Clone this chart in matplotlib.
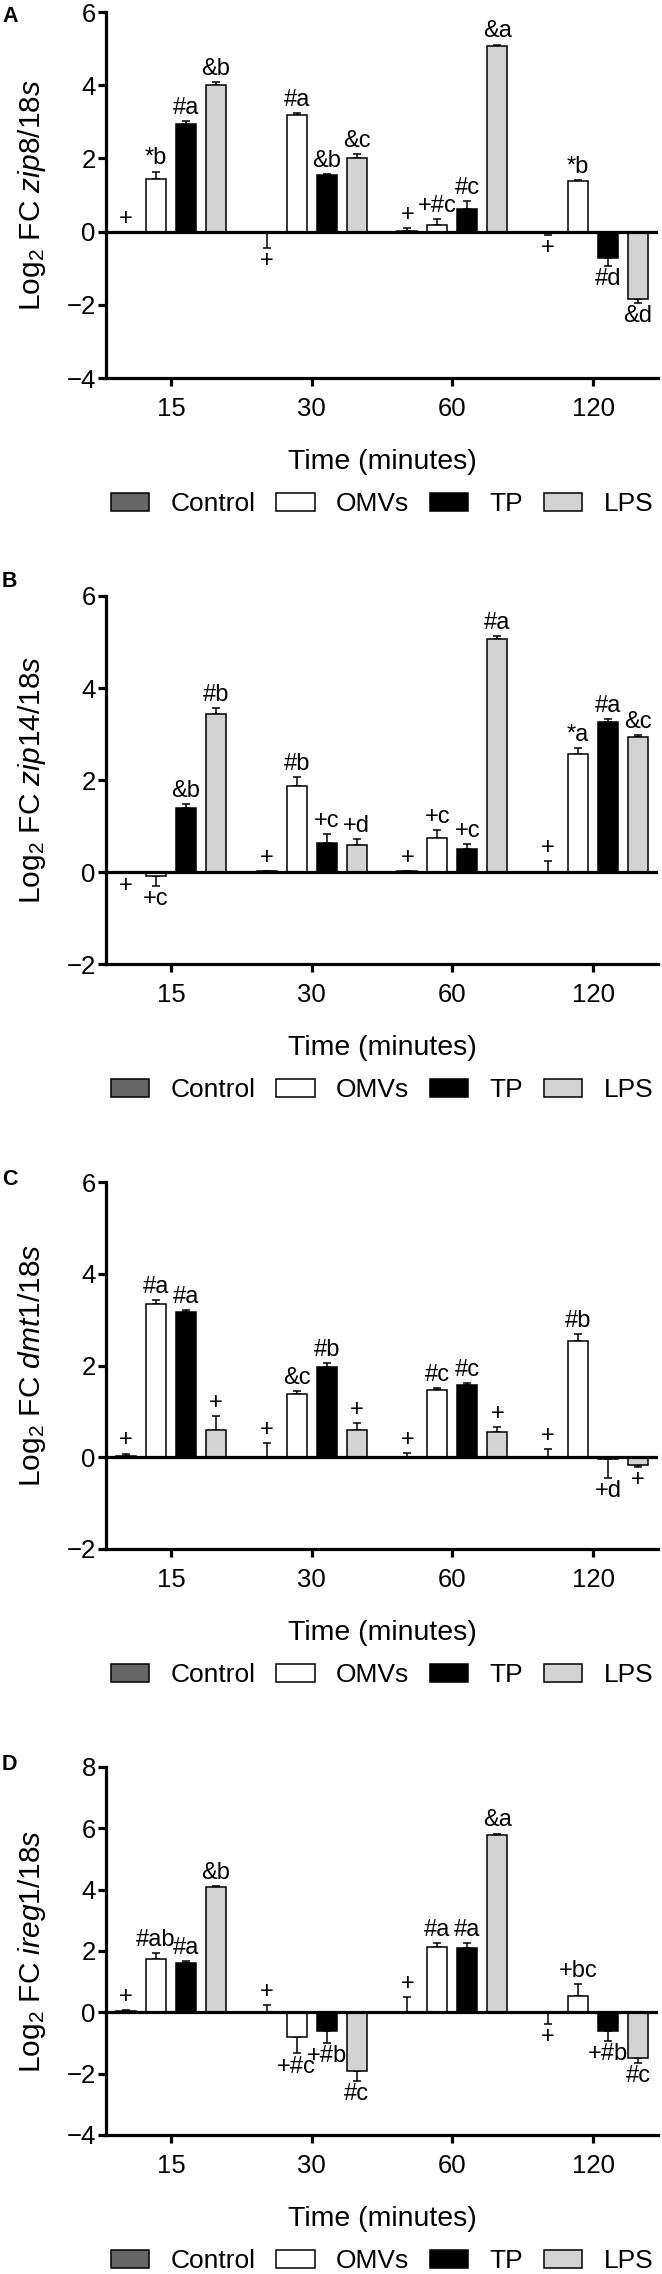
import matplotlib
matplotlib.use("Agg")
import matplotlib.pyplot as plt
from matplotlib.patches import Patch

plt.rcParams['font.family'] = ['Liberation Sans', 'DejaVu Sans']
plt.rcParams['mathtext.fontset'] = 'custom'
plt.rcParams['mathtext.rm'] = 'Liberation Sans'
plt.rcParams['mathtext.it'] = 'Liberation Sans:italic'

times = ['15', '30', '60', '120']
groups = ['Control', 'OMVs', 'TP', 'LPS']
colors = ['#666666', 'white', 'black', '#d3d3d3']

# A - zip8
zip8_mean = {
    'Control': [0.0, -0.02, 0.03, -0.05],
    'OMVs': [1.45, 3.18, 0.17, 1.37],
    'TP': [2.95, 1.55, 0.63, -0.72],
    'LPS': [4.0, 2.0, 5.08, -1.84],
}
zip8_sem = {
    'Control': [0.0, 0.43, 0.07, 0.03],
    'OMVs': [0.19, 0.05, 0.18, 0.05],
    'TP': [0.07, 0.03, 0.2, 0.22],
    'LPS': [0.08, 0.12, 0.03, 0.1],
}
zip8_labels = {
    'Control': ['+', '+', '+', '+'],
    'OMVs': ['*b', '#a', '+#c', '*b'],
    'TP': ['#a', '&b', '#c', '#d'],
    'LPS': ['&b', '&c', '&a', '&d'],
}

# B - zip14
zip14_mean = {
    'Control': [-0.02, 0.02, 0.02, 0.0],
    'OMVs': [-0.08, 1.86, 0.74, 2.57],
    'TP': [1.39, 0.64, 0.5, 3.27],
    'LPS': [3.44, 0.58, 5.07, 2.93],
}
zip14_sem = {
    'Control': [0.0, 0.0, 0.0, 0.24],
    'OMVs': [0.22, 0.2, 0.17, 0.12],
    'TP': [0.09, 0.19, 0.1, 0.06],
    'LPS': [0.12, 0.14, 0.06, 0.05],
}
zip14_labels = {
    'Control': ['+', '+', '+', '+'],
    'OMVs': ['+c', '#b', '+c', '*a'],
    'TP': ['&b', '+c', '+c', '#a'],
    'LPS': ['#b', '+d', '#a', '&c'],
}

# C - dmt1
dmt1_mean = {
    'Control': [0.02, 0.0, 0.0, 0.0],
    'OMVs': [3.35, 1.37, 1.46, 2.53],
    'TP': [3.17, 1.97, 1.57, -0.04],
    'LPS': [0.6, 0.6, 0.55, -0.17],
}
dmt1_sem = {
    'Control': [0.06, 0.3, 0.1, 0.18],
    'OMVs': [0.07, 0.08, 0.04, 0.16],
    'TP': [0.03, 0.08, 0.04, 0.41],
    'LPS': [0.3, 0.14, 0.1, 0.05],
}
dmt1_labels = {
    'Control': ['+', '+', '+', '+'],
    'OMVs': ['#a', '&c', '#c', '#b'],
    'TP': ['#a', '#b', '#c', '+d'],
    'LPS': ['+', '+', '+', '+'],
}

# D - ireg1
ireg1_mean = {
    'Control': [0.05, 0.0, 0.0, -0.02],
    'OMVs': [1.74, -0.82, 2.13, 0.52],
    'TP': [1.6, -0.62, 2.09, -0.62],
    'LPS': [4.1, -1.9, 5.78, -1.5],
}
ireg1_sem = {
    'Control': [0.03, 0.24, 0.49, 0.35],
    'OMVs': [0.18, 0.52, 0.13, 0.4],
    'TP': [0.08, 0.37, 0.16, 0.3],
    'LPS': [0.03, 0.35, 0.05, 0.16],
}
ireg1_labels = {
    'Control': ['+', '+', '+', '+'],
    'OMVs': ['#ab', '+#c', '#a', '+bc'],
    'TP': ['#a', '+#b', '#a', '+#b'],
    'LPS': ['&b', '#c', '&a', '#c'],
}

panels = [
    ('A', 'zip8/18s', zip8_mean, zip8_sem, zip8_labels, [-4, -2, 0, 2, 4, 6]),
    ('B', 'zip14/18s', zip14_mean, zip14_sem, zip14_labels, [-2, 0, 2, 4, 6]),
    ('C', 'dmt1/18s', dmt1_mean, dmt1_sem, dmt1_labels, [-2, 0, 2, 4, 6]),
    ('D', 'ireg1/18s', ireg1_mean, ireg1_sem, ireg1_labels, [-4, -2, 0, 2, 4, 6, 8]),
]

W, H = 662, 2274
fig = plt.figure(figsize=(W / 100, H / 100), dpi=100)

tops = [12, 596, 1182, 1767]
bottoms = [378, 964, 1549, 2135]
left_px, right_px = 106, 658
step = 0.213
width = 0.142


def draw_panel(ax, gene, means, sems, labels, yticks, hpx):
    for k, g in enumerate(groups):
        off = (k - 1.5) * step
        xs = [i + off for i in range(len(times))]
        ax.bar(xs, means[g], width=width, color=colors[k], edgecolor='black',
               linewidth=1.1, zorder=2)
        lower = [s if m < 0 else 0 for m, s in zip(means[g], sems[g])]
        upper = [s if m >= 0 else 0 for m, s in zip(means[g], sems[g])]
        ax.errorbar(xs, means[g], yerr=[lower, upper], fmt='none', ecolor='black',
                    elinewidth=1.1, capsize=3, capthick=1.1, zorder=1)
        for x, m, s, t in zip(xs, means[g], sems[g], labels[g]):
            if m >= 0:
                ax.annotate(t, xy=(x, m + s), xytext=(0, 1.5), textcoords='offset points',
                            ha='center', va='bottom', fontsize=17)
            else:
                ax.annotate(t, xy=(x, m - s), xytext=(0, -1.5), textcoords='offset points',
                            ha='center', va='top', fontsize=17)

    ax.axhline(0, color='black', lw=2.3, zorder=3)
    ax.set_xlim(-0.462, 3.461)
    ax.set_ylim(yticks[0], yticks[-1])
    ax.set_yticks(yticks)
    ax.set_xticks(range(len(times)))
    ax.set_xticklabels(times)
    for s in ['top', 'right']:
        ax.spines[s].set_visible(False)
    for s in ['left', 'bottom']:
        ax.spines[s].set_linewidth(2.3)
    ax.tick_params(axis='both', direction='out', length=5.8, width=2.3, labelsize=18.5)
    ax.tick_params(axis='x', pad=8)
    ax.tick_params(axis='y', pad=1.5)

    ax.set_ylabel(r'Log$_2$ FC $\mathit{' + gene + '}$', fontsize=21.5)
    ax.yaxis.set_label_coords(-0.105, 0.5)
    ax.set_xlabel('Time (minutes)', fontsize=20.5)
    ax.xaxis.label.set_va('center')
    ax.xaxis.set_label_coords(0.5, -84 / hpx)

    handles = [Patch(facecolor=c, edgecolor='black', linewidth=1.1) for c in colors]
    ax.legend(handles, groups, loc='center', bbox_to_anchor=(0.5, -126 / hpx), ncol=4,
              frameon=False, fontsize=19, handlelength=1.45, handleheight=0.65,
              handletextpad=0.8, columnspacing=0.8, borderaxespad=0, borderpad=0)


letter_tops = [6, 571, 1169, 1754]
for p, top, bot, lt in zip(panels, tops, bottoms, letter_tops):
    letter, gene, means, sems, labels, yticks = p
    hpx = bot - top
    ax = fig.add_axes([left_px / W, 1 - bot / H, (right_px - left_px) / W, hpx / H])
    draw_panel(ax, gene, means, sems, labels, yticks, hpx)
    fig.text(2 / W, 1 - lt / H, letter, fontsize=15.5, fontweight='bold', va='top', ha='left')

fig.savefig('out.png', dpi=100)
